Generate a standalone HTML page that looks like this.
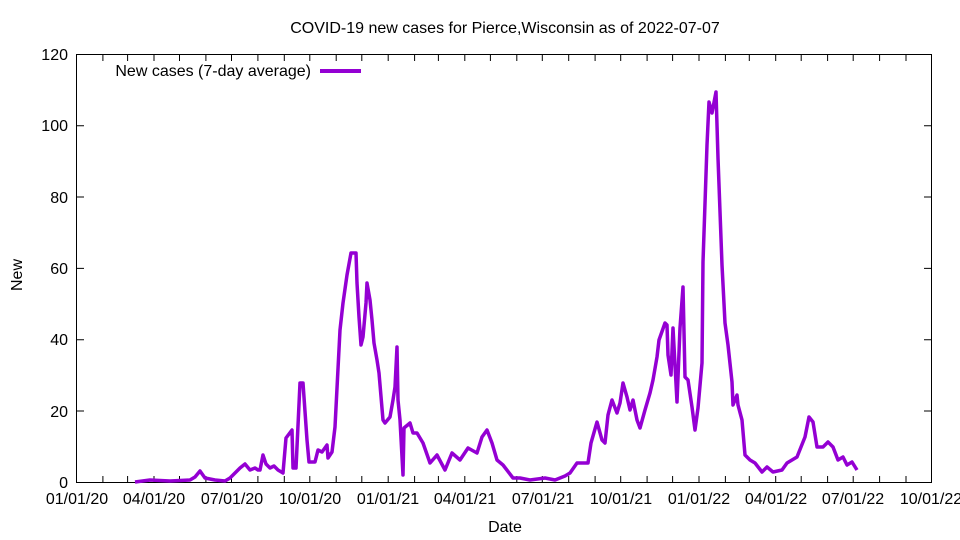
<!DOCTYPE html>
<html><head><style>body{margin:0;background:#fff}svg{display:block}text{font-family:"Liberation Sans",sans-serif;font-size:16px;fill:#000}</style></head><body>
<svg width="960" height="540" xmlns="http://www.w3.org/2000/svg">
<text x="505" y="33" text-anchor="middle">COVID-19 new cases for Pierce,Wisconsin as of 2022-07-07</text>
<g stroke="#000" stroke-width="1" fill="none">
<rect x="76.5" y="54.5" width="855" height="428"/>
<path d="M76 411h8M932 411h-8M76 339.7h8M932 339.7h-8M76 268.4h8M932 268.4h-8M76 197h8M932 197h-8M76 125.7h8M932 125.7h-8"/>
<path d="M102.9 482v-6M127.6 482v-6M154 482v-6M179.5 482v-6M205.9 482v-6M231.5 482v-6M257.9 482v-6M284.3 482v-6M309.8 482v-6M336.2 482v-6M361.8 482v-6M388.2 482v-6M414.6 482v-6M438.4 482v-6M464.8 482v-6M490.4 482v-6M516.8 482v-6M542.3 482v-6M568.7 482v-6M595.1 482v-6M620.7 482v-6M647.1 482v-6M672.6 482v-6M699 482v-6M725.4 482v-6M749.3 482v-6M775.7 482v-6M801.2 482v-6M827.6 482v-6M853.2 482v-6M879.6 482v-6M906 482v-6
M102.9 55v6M127.6 55v6M154 55v6M179.5 55v6M205.9 55v6M231.5 55v6M257.9 55v6M284.3 55v6M309.8 55v6M336.2 55v6M361.8 55v6M388.2 55v6M414.6 55v6M438.4 55v6M464.8 55v6M490.4 55v6M516.8 55v6M542.3 55v6M568.7 55v6M595.1 55v6M620.7 55v6M647.1 55v6M672.6 55v6M699 55v6M725.4 55v6M749.3 55v6M775.7 55v6M801.2 55v6M827.6 55v6M853.2 55v6M879.6 55v6M906 55v6"/>
</g>
<g text-anchor="end">
<text x="68" y="488">0</text><text x="68" y="417">20</text><text x="68" y="345">40</text><text x="68" y="274">60</text><text x="68" y="203">80</text><text x="68" y="131">100</text><text x="68" y="60">120</text>
</g>
<g text-anchor="middle">
<text x="77" y="504">01/01/20</text><text x="154" y="504">04/01/20</text><text x="232" y="504">07/01/20</text><text x="310" y="504">10/01/20</text><text x="388" y="504">01/01/21</text><text x="465" y="504">04/01/21</text><text x="543" y="504">07/01/21</text><text x="621" y="504">10/01/21</text><text x="699" y="504">01/01/22</text><text x="776" y="504">04/01/22</text><text x="853" y="504">07/01/22</text><text x="931" y="504">10/01/22</text>
<text x="505" y="532">Date</text>
</g>
<text transform="translate(22,275) rotate(-90)" text-anchor="middle">New</text>
<text x="311" y="76" text-anchor="end">New cases (7-day average)</text>
<line x1="320" y1="71" x2="361" y2="71" stroke="#9400d3" stroke-width="4"/>
<polyline fill="none" stroke="#9400d3" stroke-width="3.5" stroke-linejoin="round" points="135,482 150,480 170,481 190,480 195,477 200,471 205,478 215,480 225,481 230,478 240,468 245,464 250,470 255,468 258,470 260,470 263,455 266,464 270,468 274,466 278,470 283,473 286,438 292,430 293,468 296,468 300,383 303,383 307,440 309,462 315,462 318,450 322,452 327,445 328,458 332,452 335,427 340,330 343,303 347,275 351,253 356,253 357,283 359,317 361,345 363,337 366,303 367,283 370,300 372,320 374,343 377,360 379,373 383,420 385,423 390,417 393,400 395,387 397,347 398,400 400,420 403,475 404,428 410,423 413,433 417,433 423,443 430,463 437,455 445,470 452,453 460,460 468,448 477,453 482,437 487,430 492,443 497,460 503,465 513,478 520,478 530,480 545,478 555,480 565,476 570,473 577,463 588,463 591,443 597,422 602,440 605,443 608,415 612,400 617,413 620,403 623,383 627,397 630,410 633,400 637,420 640,428 645,410 650,393 653,380 657,357 659,340 665,323 667,325 668,355 671,375 673,328 677,402 680,328 683,287 685,377 688,380 692,407 695,430 698,408 702,363 703,262 707,145 709,102 712,113 716,92 718,158 722,265 725,323 728,345 732,382 733,405 737,395 738,405 742,420 745,455 750,460 755,463 762,472 767,467 773,472 782,470 787,463 797,457 805,437 809,417 813,422 817,447 823,447 828,442 833,447 838,460 843,457 847,465 852,462 857,470"/>
</svg>
</body></html>
